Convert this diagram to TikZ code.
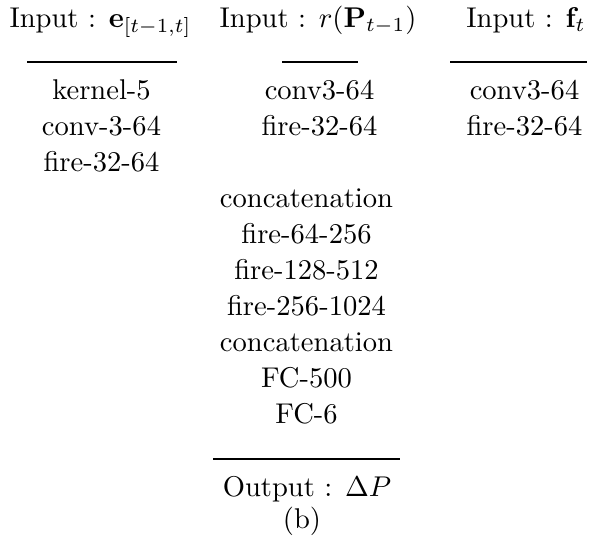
\documentclass[tikz,border=0pt]{standalone}
\usepackage{amsmath}
\begin{document}
\begin{tikzpicture}[x=0.35pt,y=-0.35pt,
  txt/.style={anchor=base,inner sep=0pt,outer sep=0pt},
  hrule/.style={line width=0.85pt}]
\useasboundingbox (0,0) rectangle (589,546);
% headers
\node[txt] (h1) at (100.5,27) {Input : $\mathbf{e}_{[t-1,t]}$};
\node[txt] (h2) at (318,27) {Input : $r(\mathbf{P}_{t-1})$};
\node[txt] (h3) at (526,27) {Input : $\mathbf{f}_t$};
% rules
\coordinate (r1a) at (27,62);  \coordinate (r1b) at (177,62);
\coordinate (r2a) at (282,62); \coordinate (r2b) at (358,62);
\coordinate (r3a) at (450,62); \coordinate (r3b) at (587,62);
\draw[hrule] (r1a) -- (r1b);
\draw[hrule] (r2a) -- (r2b);
\draw[hrule] (r3a) -- (r3b);
% left column
\node[txt] (l1) at (101.5,99) {kernel-5};
\node[txt] (l2) at (101.5,135) {conv-3-64};
\node[txt] (l3) at (101.5,171) {fire-32-64};
% middle column
\node[txt] (m1) at (319.5,99) {conv3-64};
\node[txt] (m2) at (319.5,135) {fire-32-64};
% right column
\node[txt] (c1) at (524.5,99) {conv3-64};
\node[txt] (c2) at (524.5,135) {fire-32-64};
% lower block
\node[txt] (b1) at (306.5,207) {concatenation};
\node[txt] (b2) at (306.5,243) {fire-64-256};
\node[txt] (b3) at (306.5,279) {fire-128-512};
\node[txt] (b4) at (306.5,315) {fire-256-1024};
\node[txt] (b5) at (306.5,351) {concatenation};
\node[txt] (b6) at (306.5,387) {FC-500};
\node[txt] (b7) at (306.5,423) {FC-6};
\coordinate (r4a) at (213,459); \coordinate (r4b) at (400,459);
\draw[hrule] (r4a) -- (r4b);
\node[txt] (out) at (307,496.5) {Output : $\Delta P$};
\node[txt] (cap) at (302,528) {(b)};
\end{tikzpicture}
\end{document}
